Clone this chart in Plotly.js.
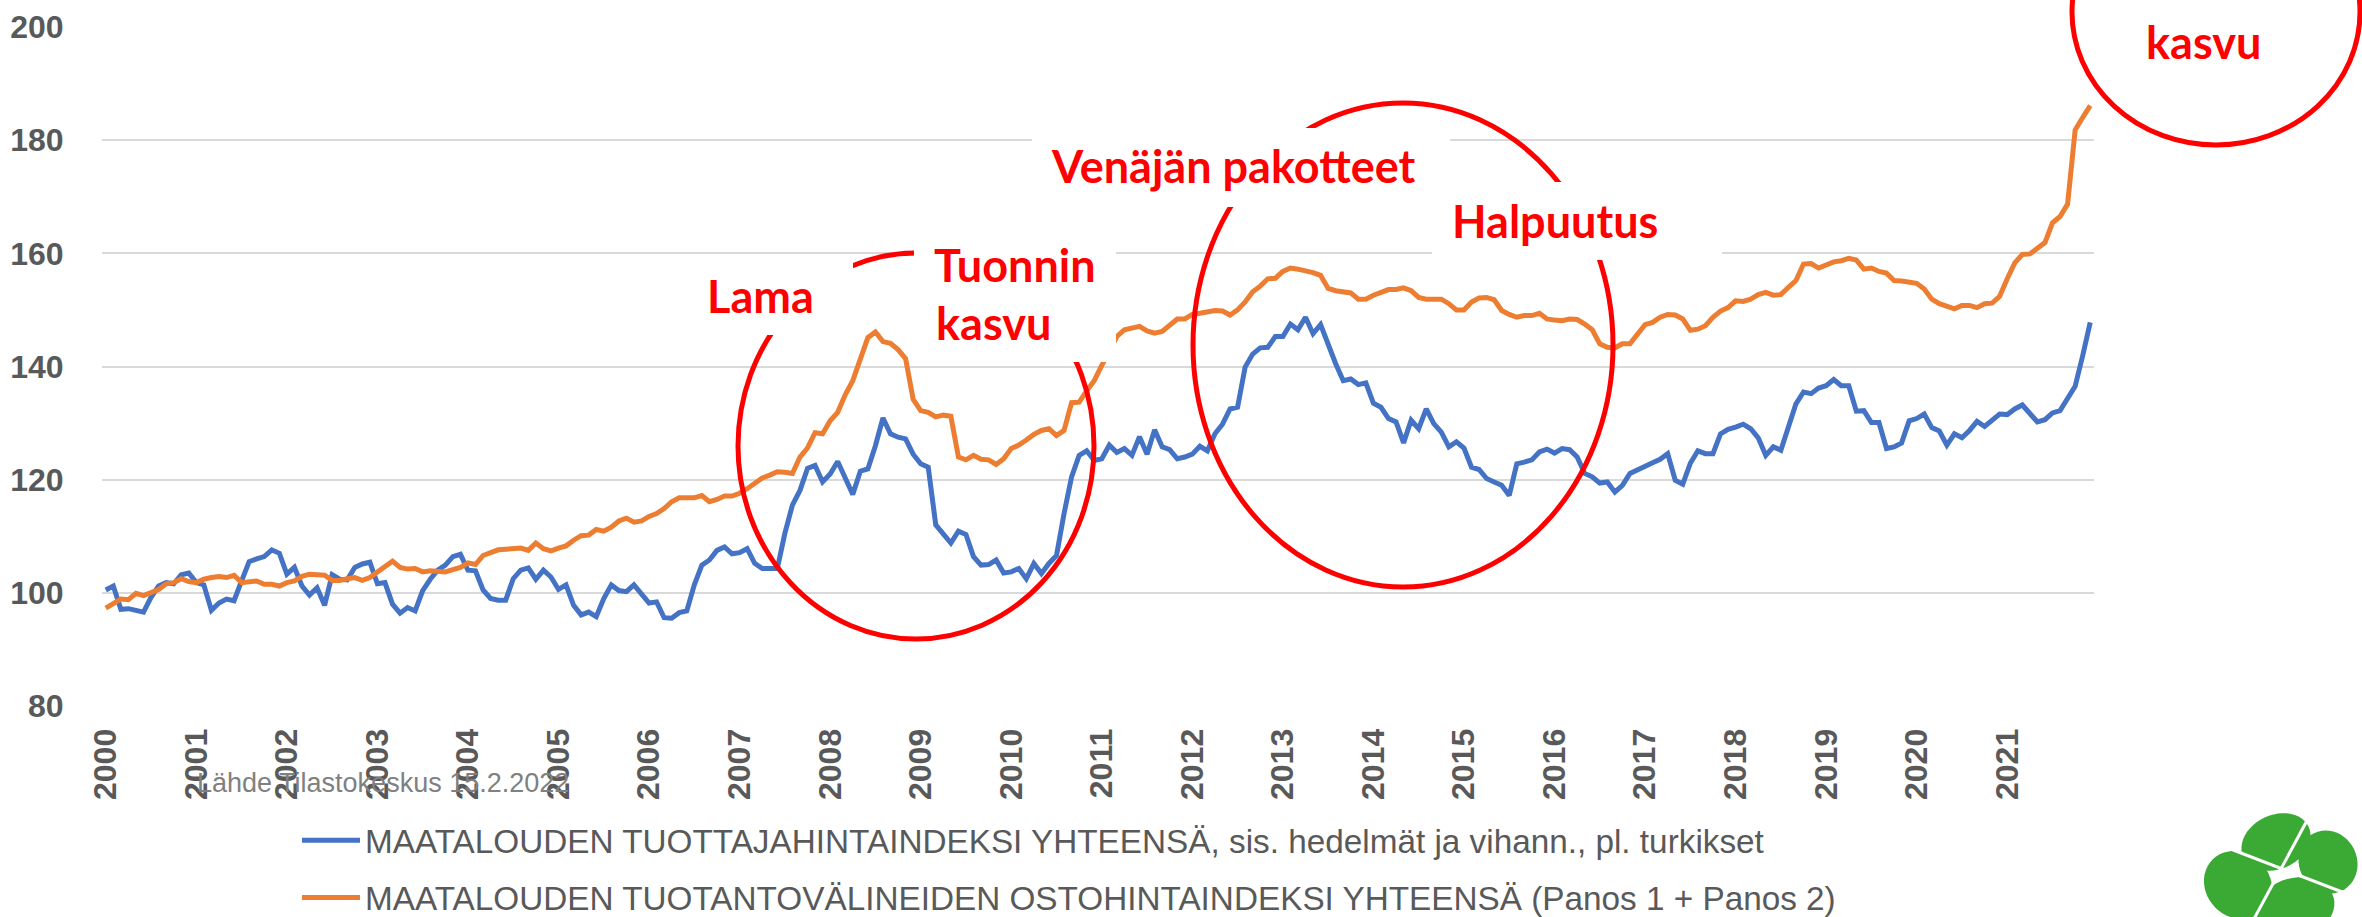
<!DOCTYPE html>
<html>
<head>
<meta charset="utf-8">
<script src="https://cdn.plot.ly/plotly-3.0.1.min.js"></script>
<style>
html,body{margin:0;padding:0;background:#ffffff;}
#chart{width:2362px;height:917px;}
</style>
</head>
<body>
<div id="chart"></div>
<script>
// ---------- DATA ----------
const years = ["2000","2001","2002","2003","2004","2005","2006","2007","2008","2009","2010",
               "2011","2012","2013","2014","2015","2016","2017","2018","2019","2020","2021"];

// Producer price index (blue), monthly 2000-01 ... 2021-12
const producerPriceIndex = [
  100.5,101.2,97.1,97.2,96.9,96.6,99.2,101.2,101.8,101.6,103.2,103.5,
  101.8,101.4,96.9,98.2,98.9,98.6,102.1,105.5,106.0,106.4,107.6,107.0,
  103.3,104.5,101.2,99.6,100.9,97.8,103.2,102.4,102.3,104.5,105.1,105.4,
  101.6,101.8,98.0,96.4,97.4,96.8,100.4,102.4,104.0,104.9,106.4,106.8,
  104.0,103.9,100.5,99.0,98.7,98.7,102.5,104.0,104.4,102.4,104.0,102.8,
  100.6,101.4,97.8,96.1,96.6,95.8,99.0,101.4,100.4,100.2,101.4,99.9,
  98.2,98.4,95.6,95.5,96.5,96.8,101.4,104.9,105.8,107.5,108.1,106.9,
  107.1,107.8,105.2,104.3,104.2,104.3,110.5,115.5,118.1,122.0,122.5,119.6,
  121.0,123.2,120.3,117.4,121.5,121.9,126.0,130.9,128.1,127.5,127.2,124.5,
  122.8,122.2,112.0,110.5,108.8,110.9,110.3,106.4,104.9,105.0,105.8,103.5,
  103.7,104.3,102.5,105.2,103.4,105.2,106.6,114.0,120.5,124.3,125.1,123.4,
  123.7,126.1,124.8,125.5,124.3,127.6,124.5,128.8,125.8,125.3,123.7,124.0,
  124.5,125.9,125.1,128.1,129.8,132.5,132.8,139.9,142.2,143.3,143.4,145.3,
  145.3,147.5,146.5,148.7,145.8,147.4,143.7,140.5,137.5,137.8,136.8,137.1,
  133.5,132.8,130.8,130.2,126.5,130.5,129.0,132.5,129.9,128.4,125.8,126.7,
  125.6,122.2,121.8,120.2,119.6,119.0,117.2,122.8,123.1,123.5,124.9,125.4,
  124.7,125.5,125.3,124.0,121.1,120.5,119.4,119.6,117.8,119.0,121.1,121.8,
  122.4,123.0,123.6,124.6,119.9,119.2,122.9,125.1,124.6,124.6,128.1,128.9,
  129.3,129.8,129.0,127.4,124.3,125.8,125.2,129.4,133.4,135.5,135.2,136.2,
  136.6,137.7,136.6,136.6,132.1,132.2,130.1,130.1,125.5,125.8,126.5,130.4,
  130.8,131.6,129.2,128.6,126.1,128.1,127.4,128.7,130.3,129.4,130.5,131.6,
  131.5,132.5,133.2,131.8,130.2,130.6,131.8,132.2,134.3,136.5,141.9,147.8
];

// Input purchase price index (orange), monthly 2000-01 ... 2021-12
const inputPriceIndex = [
  97.3,98.0,98.9,98.8,99.9,99.5,100.1,100.6,101.6,101.8,102.5,102.0,
  101.8,102.4,102.7,102.9,102.7,103.1,101.8,101.9,102.1,101.5,101.5,101.2,
  101.8,102.1,102.9,103.3,103.3,103.1,102.2,102.2,102.5,102.7,102.2,102.7,
  103.7,104.6,105.6,104.5,104.2,104.3,103.7,103.9,103.7,103.7,104.1,104.5,
  105.3,105.0,106.6,107.1,107.6,107.7,107.7,107.9,107.5,108.8,107.8,107.4,
  107.9,108.3,109.3,110.1,110.2,111.2,110.9,111.6,112.7,113.2,112.5,112.7,
  113.5,114.0,114.9,116.1,116.8,116.9,116.8,117.2,116.1,116.5,117.1,117.1,
  117.6,118.4,119.3,120.3,120.8,121.4,121.3,121.1,124.0,125.6,128.3,128.1,
  130.4,131.9,135.0,137.5,141.3,145.1,146.1,144.4,144.1,143.0,141.4,134.2,
  132.2,131.9,131.1,131.4,131.2,124.0,123.5,124.3,123.6,123.5,122.7,123.7,
  125.5,126.1,127.0,128.0,128.7,129.0,127.8,128.7,133.6,133.7,135.7,137.5,
  140.2,142.8,145.3,146.5,146.7,147.1,146.3,145.9,146.2,147.3,148.4,148.4,
  149.2,149.4,149.6,149.9,149.8,149.1,150.0,151.4,153.2,154.2,155.5,155.6,
  156.8,157.4,157.2,157.0,156.6,156.1,153.8,153.4,153.2,153.0,151.9,151.9,
  152.6,153.2,153.6,153.6,153.9,153.4,152.2,151.9,151.9,151.9,151.1,150.0,
  150.0,151.4,152.1,152.2,151.8,149.9,149.2,148.7,149.0,149.0,149.4,148.4,
  148.2,148.1,148.4,148.3,147.5,146.5,144.0,143.4,143.3,144.0,144.0,145.8,
  147.4,147.8,148.7,149.2,149.1,148.4,146.4,146.6,147.2,148.7,149.8,150.4,
  151.6,151.5,151.9,152.7,153.1,152.6,152.7,154.0,155.2,158.1,158.2,157.4,
  158.0,158.5,158.7,159.1,158.8,157.2,157.4,156.8,156.5,155.2,155.1,154.8,
  154.7,153.7,151.9,151.1,150.6,150.2,150.8,150.8,150.4,151.1,151.2,152.4,
  155.5,158.3,159.8,159.9,160.9,161.9,165.4,166.5,168.7,181.8,184.0,186.1
];

const seriesNames = [
  "MAATALOUDEN TUOTTAJAHINTAINDEKSI YHTEENSÄ, sis. hedelmät ja vihann., pl. turkikset",
  "MAATALOUDEN TUOTANTOVÄLINEIDEN OSTOHINTAINDEKSI YHTEENSÄ (Panos 1 + Panos 2)"
];
const seriesColors = ["#4472C4", "#ED7D31"];
const calloutTexts = ["Lama", "Tuonnin", "kasvu", "Venäjän pakotteet", "Halpuutus", "kasvu"];
const sourceText = "Lähde Tilastokeskus 15.2.2022";

// ---------- BUILD ----------
const months = [];
years.forEach(y => { for (let m = 1; m <= 12; m++) months.push(y + "-" + String(m).padStart(2, "0")); });

const W = 2362, H = 917;
const M = {l: 102, r: 268, t: 27, b: 211, autoexpand: false};
const PW = W - M.l - M.r, PH = H - M.t - M.b;
const px = p => (p - M.l) / PW;          // pixel x -> paper x
const py = p => (H - M.b - p) / PH;      // pixel y -> paper y

const traces = [producerPriceIndex, inputPriceIndex].map((vals, k) => ({
  type: "scatter", mode: "lines",
  x: months, y: vals, name: seriesNames[k],
  legendgroup: "g" + k,
  line: {color: seriesColors[k], width: 5},
  hoverinfo: "skip"
}));

const red = "#FF0000";
function ellipse(x0, x1, y0, y1) {
  return {type: "circle", xref: "paper", yref: "paper", layer: "above",
          x0: px(x0), x1: px(x1), y0: py(y1), y1: py(y0),
          line: {color: red, width: 5}, fillcolor: "rgba(0,0,0,0)"};
}
function whiteBox(x0, x1, y0, y1) {
  return {type: "rect", xref: "paper", yref: "paper", layer: "above",
          x0: px(x0), x1: px(x1), y0: py(y1), y1: py(y0),
          line: {width: 0}, fillcolor: "#ffffff"};
}
function leaf(cx, cy, rx, ry, angDeg) {
  const a = angDeg * Math.PI / 180;
  let d = "";
  for (let i = 0; i <= 48; i++) {
    const t = i / 48 * 2 * Math.PI;
    const ex = rx * Math.cos(t), ey = ry * Math.sin(t);
    const X = cx + ex * Math.cos(a) - ey * Math.sin(a);
    const Y = cy + ex * Math.sin(a) + ey * Math.cos(a);
    d += (i === 0 ? "M" : "L") + px(X).toFixed(5) + "," + py(Y).toFixed(5);
  }
  return {type: "path", xref: "paper", yref: "paper", layer: "above", path: d + "Z",
          fillcolor: "#3AAA35", line: {width: 0}};
}
function whiteLine(x0, y0, x1, y1) {
  return {type: "line", xref: "paper", yref: "paper", layer: "above",
          x0: px(x0), y0: py(y0), x1: px(x1), y1: py(y1),
          line: {color: "#ffffff", width: 3}};
}

const shapes = [
  ellipse(738, 1094, 253, 639),
  ellipse(1193, 1613, 103, 587),
  ellipse(2072, 2360, -121, 145),
  whiteBox(700, 853, 258, 335),
  whiteBox(914, 1116, 235, 362),
  whiteBox(1032, 1450, 128, 207),
  whiteBox(1432, 1722, 182, 260),
  // clover logo
  leaf(2276, 842, 36, 27, -25),
  leaf(2328, 862, 32, 29, 65),
  leaf(2238, 885, 36, 32, 45),
  leaf(2295, 908, 40, 30, -15),
  whiteLine(2228, 848, 2350, 895),
  whiteLine(2248, 930, 2310, 815)
];

const calloutFont = {family: "Lato, 'Open Sans', sans-serif", size: 45, color: red, weight: "bold"};
function callout(text, xLeft, yMid) {
  return {text: text, xref: "paper", yref: "paper", x: px(xLeft), y: py(yMid),
          xanchor: "left", yanchor: "middle", showarrow: false, font: calloutFont};
}
const annotations = [
  callout(calloutTexts[0], 705, 296),
  callout(calloutTexts[1], 932, 265),
  callout(calloutTexts[2], 934, 323),
  callout(calloutTexts[3], 1049, 166),
  callout(calloutTexts[4], 1450, 221),
  callout(calloutTexts[5], 2144, 42),
  {text: sourceText, xref: "paper", yref: "paper", x: px(195), y: py(783),
   xanchor: "left", yanchor: "middle", showarrow: false,
   font: {family: "'Liberation Sans', Arial, sans-serif", size: 27, color: "#808080"}}
];

const tickFont = {family: "'Liberation Sans', Arial, sans-serif", size: 32, color: "#595959", weight: "bold"};

const layout = {
  width: W, height: H,
  margin: M,
  paper_bgcolor: "#ffffff", plot_bgcolor: "#ffffff",
  showlegend: true,
  legend: {
    orientation: "v", x: px(297), xanchor: "left", y: py(812), yanchor: "top",
    font: {family: "'Liberation Sans', Arial, sans-serif", size: 33.3, color: "#595959"},
    tracegroupgap: 11, bgcolor: "rgba(0,0,0,0)", itemwidth: 58
  },
  xaxis: {
    type: "category", range: [-0.5, months.length - 0.5], automargin: false,
    tickmode: "array", tickvals: years.map(y => y + "-01"), ticktext: years,
    tickangle: -90, tickfont: tickFont,
    ticks: "outside", ticklen: 9, tickcolor: "rgba(0,0,0,0)",
    showgrid: false, zeroline: false, showline: false, fixedrange: true
  },
  yaxis: {
    range: [80, 200], tick0: 80, dtick: 20, tickmode: "linear", automargin: false,
    tickfont: tickFont,
    ticks: "outside", ticklen: 31, tickcolor: "rgba(0,0,0,0)",
    showgrid: true, gridcolor: "#D9D9D9", gridwidth: 2,
    zeroline: false, showline: false, fixedrange: true
  },
  shapes: shapes,
  annotations: annotations
};

Plotly.newPlot("chart", traces, layout, {staticPlot: true, displayModeBar: false});
</script>
</body>
</html>
